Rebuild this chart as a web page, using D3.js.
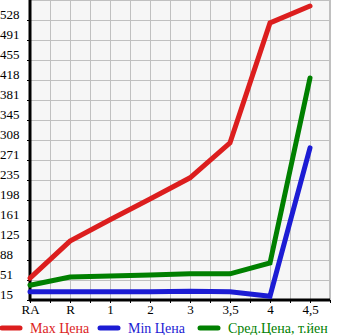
<!DOCTYPE html>
<html>
<head>
<meta charset="utf-8">
<script src="https://cdn.jsdelivr.net/npm/d3@7"></script>
<style>
  body { margin: 0; background: #fff; }
  svg { display: block; }
  svg text { font-family: "Liberation Serif", "DejaVu Serif", serif; }
</style>
</head>
<body>
<svg id="chart" width="345" height="335"></svg>
<script>
// data
const categories = ['RA', 'R', '1', '2', '3', '3,5', '4', '4,5'];
const maxPrice = [55, 123, 162, 200, 239, 303, 523, 554];
const minPrice = [30, 30, 30, 30, 31, 30, 22, 294];
const avgPrice = [42, 57, 59, 61, 63, 63, 83, 422];
const yTickLabels = ['15', '51', '88', '125', '161', '198', '235', '271', '308', '345', '381', '418', '455', '491', '528'];
const seriesNames = ['Max Цена', 'Min Цена', 'Сред.Цена, т.йен'];

const svg = d3.select('#chart');
const plotL = 30, plotR = 330, plotT = 0, plotB = 300;

// scales
const x = d3.scaleLinear().domain([0, categories.length - 0.5]).range([plotL, plotR]);
const y = d3.scaleLinear().domain([15, 565]).range([plotB, plotT]);
const yStep = 550 / 15;

// background + grid
svg.append('rect')
  .attr('x', plotL).attr('y', plotT)
  .attr('width', plotR - plotL).attr('height', plotB - plotT)
  .attr('fill', '#f6f6f6');

const gridX = d3.range(0.5, categories.length, 0.5);
svg.append('g').selectAll('line').data(gridX).join('line')
  .attr('x1', d => x(d) + 0.5).attr('x2', d => x(d) + 0.5)
  .attr('y1', plotT).attr('y2', plotB)
  .attr('stroke', '#c0c0c0').attr('stroke-width', 1);
svg.append('line')
  .attr('x1', plotR - 0.5).attr('x2', plotR - 0.5).attr('y1', plotT).attr('y2', plotB)
  .attr('stroke', '#c0c0c0');

const gridY = d3.range(1, 16).map(i => 15 + i * yStep);
svg.append('g').selectAll('line').data(gridY).join('line')
  .attr('x1', plotL).attr('x2', plotR)
  .attr('y1', d => Math.round(y(d)) + 0.5).attr('y2', d => Math.round(y(d)) + 0.5)
  .attr('stroke', '#c0c0c0').attr('stroke-width', 1);

// y axis
const yTicks = yTickLabels.map((t, i) => 15 + i * yStep);
const axisY = d3.axisLeft(y).tickValues(yTicks)
  .tickFormat((d, i) => yTickLabels[i]).tickSize(3).tickPadding(4);
const gy = svg.append('g').attr('transform', `translate(${plotL},0)`).call(axisY);
gy.select('.domain').remove();
gy.selectAll('text')
  .attr('font-size', 13)
  .attr('text-anchor', 'start').attr('x', -30).attr('dy', '-0.1em').attr('fill', '#000');

// x axis
const axisX = d3.axisBottom(x).tickValues(d3.range(0, categories.length + 0.5, 0.5))
  .tickFormat(d => Number.isInteger(d) && d < categories.length ? categories[d] : '')
  .tickSize(3).tickPadding(2);
const gx = svg.append('g').attr('transform', `translate(0,${plotB})`).call(axisX);
gx.select('.domain').remove();
gx.selectAll('text').attr('font-size', 13).attr('fill', '#000');

// axis lines
svg.append('line').attr('x1', plotL).attr('x2', plotL).attr('y1', plotT).attr('y2', plotB + 1)
  .attr('stroke', '#000').attr('stroke-width', 3);
svg.append('line').attr('x1', plotL - 1).attr('x2', plotR).attr('y1', plotB).attr('y2', plotB)
  .attr('stroke', '#000').attr('stroke-width', 3);

// series
const series = [
  { name: seriesNames[0], values: maxPrice, color: '#dc1e1e' },
  { name: seriesNames[1], values: minPrice, color: '#1c1cd4' },
  { name: seriesNames[2], values: avgPrice, color: '#008000' }
];
const line = d3.line().x((d, i) => x(i)).y(d => y(d));

svg.append('g').selectAll('path').data(series).join('path')
  .attr('d', d => line(d.values))
  .attr('fill', 'none')
  .attr('stroke', d => d.color)
  .attr('stroke-width', 5)
  .attr('stroke-linecap', 'round')
  .attr('stroke-linejoin', 'miter');

// legend
const legendX = [0, 98, 198];
const lg = svg.append('g').selectAll('g').data(series).join('g')
  .attr('transform', (d, i) => `translate(${legendX[i]},328)`);
lg.append('line').attr('x1', 2).attr('x2', 20).attr('y1', 0).attr('y2', 0)
  .attr('stroke', d => d.color).attr('stroke-width', 5).attr('stroke-linecap', 'round');
lg.append('text').attr('x', 30).attr('y', 5)
  .attr('font-size', 14).attr('fill', d => d.color)
  .text(d => d.name);
</script>
</body>
</html>
